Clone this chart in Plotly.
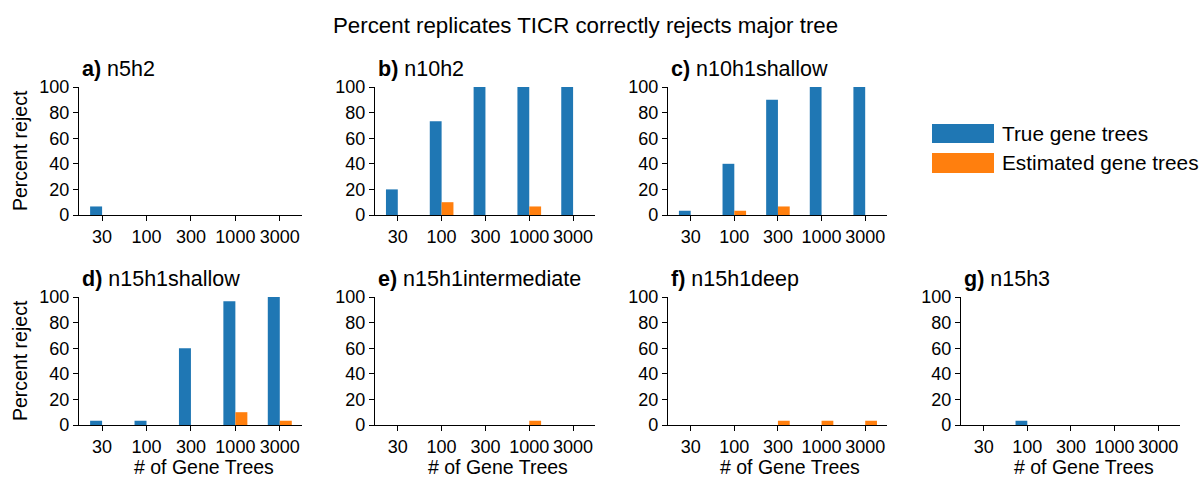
import plotly.graph_objects as go

W, H = 1200, 479

categories = ["30", "100", "300", "1000", "3000"]
panel_labels = ["a)", "b)", "c)", "d)", "e)", "f)", "g)"]
panel_names = ["n5h2", "n10h2", "n10h1shallow", "n15h1shallow",
               "n15h1intermediate", "n15h1deep", "n15h3"]
true_vals = [
    [6.67, 0, 0, 0, 0],
    [20, 73.33, 100, 100, 100],
    [3.33, 40, 90, 100, 100],
    [3.33, 3.33, 60, 96.67, 100],
    [0, 0, 0, 0, 0],
    [0, 0, 0, 0, 0],
    [0, 3.33, 0, 0, 0],
]
est_vals = [
    [0, 0, 0, 0, 0],
    [0, 10, 0, 6.67, 0],
    [0, 3.33, 6.67, 0, 0],
    [0, 0, 0, 10, 3.33],
    [0, 0, 0, 3.33, 0],
    [0, 0, 3.33, 3.33, 3.33],
    [0, 0, 0, 0, 0],
]
series_names = ["True gene trees", "Estimated gene trees"]
colors = ["#1f77b4", "#ff7f0e"]
yticks = [0, 20, 40, 60, 80, 100]

FONT = "Liberation Sans, Arial, Helvetica, sans-serif"

# panel pixel layout: (left, right, top, bottom)
cols_px = [(79, 302), (375, 595), (668, 887), (961, 1180)]
rows_px = [(87, 215), (297, 425)]
positions = [(0, 0), (0, 1), (0, 2), (1, 0), (1, 1), (1, 2), (1, 3)]


def px(x):
    return x / W


def py(y):
    return 1 - y / H


fig = go.Figure()
annotations = []
shapes = []
bw = 0.27

for i, (r, c) in enumerate(positions):
    n = i + 1
    xa = "x" if n == 1 else f"x{n}"
    ya = "y" if n == 1 else f"y{n}"
    fig.add_trace(go.Bar(x=categories, y=true_vals[i], name=series_names[0],
                         marker=dict(color=colors[0], line=dict(width=0)),
                         width=bw, offset=-bw, xaxis=xa, yaxis=ya,
                         showlegend=False))
    fig.add_trace(go.Bar(x=categories, y=est_vals[i], name=series_names[1],
                         marker=dict(color=colors[1], line=dict(width=0)),
                         width=bw, offset=0, xaxis=xa, yaxis=ya,
                         showlegend=False))
    l, rr = cols_px[c]
    t, b = rows_px[r]
    xkey = "xaxis" if n == 1 else f"xaxis{n}"
    ykey = "yaxis" if n == 1 else f"yaxis{n}"
    fig.update_layout(**{
        xkey: dict(domain=[px(l), px(rr)], anchor=ya, type="category",
                   categoryorder="array", categoryarray=categories,
                   range=[-0.52, 4.5], showline=True, linecolor="black",
                   linewidth=1.4, ticks="outside", ticklen=5, tickwidth=1.3,
                   tickcolor="black", showgrid=False, zeroline=False,
                   tickfont=dict(size=18, color="black", family=FONT),
                   fixedrange=True, automargin=False),
        ykey: dict(domain=[py(b), py(t)], anchor=xa, range=[0, 100],
                   tickvals=yticks, showline=True, linecolor="black",
                   linewidth=1.4, ticks="outside", ticklen=5, tickwidth=1.3,
                   tickcolor="black", showgrid=False, zeroline=False,
                   tickfont=dict(size=18, color="black", family=FONT),
                   fixedrange=True, automargin=False),
    })
    annotations.append(dict(
        text=f"<b>{panel_labels[i]}</b> {panel_names[i]}",
        x=px(l + 1), y=py(t - 18), xref="paper", yref="paper",
        xanchor="left", yanchor="middle", showarrow=False,
        font=dict(size=21.5, color="black", family=FONT)))
    if r == 1:
        annotations.append(dict(
            text="# of Gene Trees", x=px((l + rr) / 2 + 13), y=py(467),
            xref="paper", yref="paper", xanchor="center", yanchor="middle",
            showarrow=False, font=dict(size=19.5, color="black", family=FONT)))
    if c == 0:
        annotations.append(dict(
            text="Percent reject", x=px(20), y=py((t + b) / 2),
            xref="paper", yref="paper", xanchor="center", yanchor="middle",
            textangle=-90, showarrow=False,
            font=dict(size=19.5, color="black", family=FONT)))

# main title
annotations.append(dict(
    text="Percent replicates TICR correctly rejects major tree",
    x=px(585), y=py(25), xref="paper", yref="paper", xanchor="center",
    yanchor="middle", showarrow=False,
    font=dict(size=22.3, color="black", family=FONT)))

# legend (drawn manually to match large swatches)
leg_items = [(124, 143), (153, 173)]
for k, (y0, y1) in enumerate(leg_items):
    shapes.append(dict(type="rect", xref="paper", yref="paper",
                       x0=px(932), x1=px(994), y0=py(y1), y1=py(y0),
                       fillcolor=colors[k], line=dict(width=0)))
    annotations.append(dict(
        text=series_names[k], x=px(1000), y=py((y0 + y1) / 2),
        xref="paper", yref="paper", xanchor="left", yanchor="middle",
        showarrow=False, font=dict(size=20.8, color="black", family=FONT)))

fig.update_layout(
    width=W, height=H, margin=dict(l=0, r=0, t=0, b=0),
    paper_bgcolor="white", plot_bgcolor="white",
    barmode="overlay", showlegend=False,
    annotations=annotations, shapes=shapes,
    font=dict(family=FONT, color="black"),
)

fig.write_html("out.html", config={"displayModeBar": False},
               post_script="document.body.style.margin='0';"
                           "document.body.style.overflow='hidden';")
